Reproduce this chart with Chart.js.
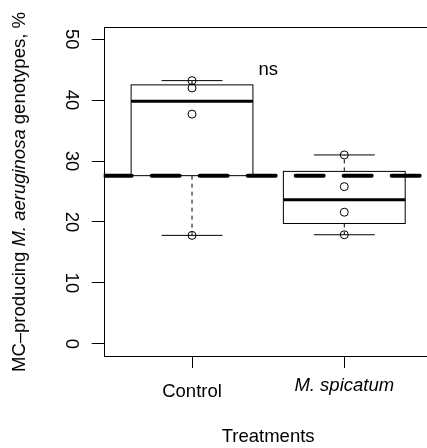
<!DOCTYPE html>
<html lang="en">
  <head>
    <meta charset="UTF-8" />
    <title>MC-producing genotypes boxplot</title>
    <script src="https://cdn.jsdelivr.net/npm/chart.js"></script>
    <style>
      body { margin: 0; overflow: hidden; background: #fff; }
      #wrap { position: relative; width: 427px; height: 448px; overflow: hidden; }
      #boxChart { position: absolute; left: 0; top: 0; }
      #yTitle {
        position: absolute;
        left: 18.5px;
        top: 191.5px;
        transform: translate(-50%, -50%) rotate(-90deg);
        white-space: nowrap;
        font: 18.5px "Liberation Sans", Arial, sans-serif;
        color: #000;
      }
    </style>
  </head>
  <body>
    <div id="wrap">
      <!-- canvas is a bit wider than the picture: the plot frame runs past the right edge -->
      <canvas id="boxChart" width="440" height="448"></canvas>
      <div id="yTitle">MC&ndash;producing <i>M. aeruginosa</i> genotypes, %</div>
    </div>

    <script>
      // data
      const categories = ["Control", "M. spicatum"];
      const yTicks = [0, 10, 20, 30, 40, 50];
      const controlPoints = [43.2, 42.0, 37.7, 17.8];
      const spicatumPoints = [31.0, 25.8, 21.6, 17.9];
      const whiskerLow = [17.8, 17.9];
      const boxLow = [27.6, 19.75];
      const medians = [39.8, 23.65];
      const boxHigh = [42.5, 28.3];
      const whiskerHigh = [43.2, 31.0];
      const refLine = 27.6;
      const noteText = "ns";
      const noteX = 1.5;
      const noteY = 45;

      const xMin = 0.42, xMax = 2.58;
      const yMin = -2, yMax = 52;
      const boxWidth = 0.8;
      const fontFamily = "'Liberation Sans', Arial, sans-serif";
      const fontSize = 18.5;

      function line(ctx, x1, y1, x2, y2) {
        ctx.beginPath();
        ctx.moveTo(x1, y1);
        ctx.lineTo(x2, y2);
        ctx.stroke();
      }

      const boxPlugin = {
        id: "boxes",
        beforeDatasetsDraw(chart) {
          const { ctx, scales: { x, y } } = chart;
          ctx.save();
          ctx.strokeStyle = "#000";
          categories.forEach((cat, i) => {
            const pos = i + 1;
            const xc = x.getPixelForValue(pos);
            const xl = x.getPixelForValue(pos - boxWidth / 2);
            const xr = x.getPixelForValue(pos + boxWidth / 2);
            const sl = x.getPixelForValue(pos - boxWidth / 4);
            const sr = x.getPixelForValue(pos + boxWidth / 4);

            // whiskers (dashed)
            ctx.lineWidth = 1;
            ctx.setLineDash([4, 4]);
            line(ctx, xc, y.getPixelForValue(boxLow[i]), xc, y.getPixelForValue(whiskerLow[i]));
            line(ctx, xc, y.getPixelForValue(boxHigh[i]), xc, y.getPixelForValue(whiskerHigh[i]));
            ctx.setLineDash([]);

            // staples
            line(ctx, sl, y.getPixelForValue(whiskerLow[i]), sr, y.getPixelForValue(whiskerLow[i]));
            line(ctx, sl, y.getPixelForValue(whiskerHigh[i]), sr, y.getPixelForValue(whiskerHigh[i]));

            // box
            const yt = y.getPixelForValue(boxHigh[i]);
            const yb = y.getPixelForValue(boxLow[i]);
            ctx.strokeRect(xl, yt, xr - xl, yb - yt);

            // median
            ctx.lineWidth = 3;
            ctx.lineCap = "butt";
            const ym = y.getPixelForValue(medians[i]);
            line(ctx, xl, ym, xr, ym);
          });
          ctx.restore();
        },
        afterDatasetsDraw(chart) {
          const { ctx, chartArea, scales: { x, y } } = chart;
          ctx.save();
          // plot frame
          ctx.strokeStyle = "#000";
          ctx.lineWidth = 1;
          ctx.strokeRect(
            Math.round(chartArea.left) + 0.5,
            Math.round(chartArea.top) + 0.5,
            chartArea.right - chartArea.left,
            Math.round(chartArea.bottom) - Math.round(chartArea.top)
          );
          // "ns" note
          ctx.fillStyle = "#000";
          ctx.font = `${fontSize}px ${fontFamily}`;
          ctx.textAlign = "center";
          ctx.textBaseline = "middle";
          ctx.fillText(noteText, x.getPixelForValue(noteX), y.getPixelForValue(noteY));
          ctx.restore();
        },
      };

      const pointData = [
        ...controlPoints.map((v) => ({ x: 1, y: v })),
        ...spicatumPoints.map((v) => ({ x: 2, y: v })),
      ];

      new Chart(document.getElementById("boxChart"), {
        type: "scatter",
        data: {
          datasets: [
            {
              type: "line",
              data: [
                { x: xMin, y: refLine },
                { x: xMax, y: refLine },
              ],
              borderColor: "#000",
              borderWidth: 4,
              borderDash: [28, 20],
              borderCapStyle: "round",
              pointRadius: 0,
              clip: 0,
            },
            {
              data: pointData,
              pointStyle: "circle",
              pointRadius: 4,
              pointBorderWidth: 1,
              borderColor: "#000",
              backgroundColor: "rgba(0,0,0,0)",
            },
          ],
        },
        options: {
          responsive: false,
          animation: false,
          events: [],
          layout: {
            autoPadding: false,
            padding: { top: 27, right: 7.4, left: 0, bottom: 0 },
          },
          plugins: { legend: { display: false }, tooltip: { enabled: false } },
          scales: {
            x: {
              type: "linear",
              bounds: "data",
              min: xMin,
              max: xMax,
              afterBuildTicks: (s) => {
                s.ticks = categories.map((c, i) => ({ value: i + 1 }));
              },
              afterFit: (s) => {
                s.height = 92;
                s.paddingLeft = 0;
                s.paddingRight = 0;
              },
              ticks: {
                callback: (v, i) => categories[i],
                padding: 12.4,
                color: "#000",
                font: (ctx) => ({
                  family: fontFamily,
                  size: fontSize,
                  style: ctx.index === 1 ? "italic" : "normal",
                  lineHeight: ctx.index === 1 ? 0.6 : 1.2,
                }),
              },
              grid: { drawOnChartArea: false, tickLength: 12, color: "#000" },
              border: { display: false },
              title: {
                display: true,
                text: "Treatments",
                color: "#000",
                font: { family: fontFamily, size: fontSize },
                padding: { top: 0, bottom: 0 },
              },
            },
            y: {
              type: "linear",
              bounds: "data",
              min: yMin,
              max: yMax,
              afterBuildTicks: (s) => {
                s.ticks = yTicks.map((v) => ({ value: v }));
              },
              afterFit: (s) => {
                s.width = 103.7;
                s.paddingTop = 0;
                s.paddingBottom = 0;
              },
              ticks: {
                minRotation: -90,
                crossAlign: "center",
                padding: 10.4,
                color: "#000",
                font: { family: fontFamily, size: fontSize },
              },
              grid: { drawOnChartArea: false, tickLength: 12, color: "#000" },
              border: { display: false },
            },
          },
        },
        plugins: [boxPlugin],
      });
    </script>
  </body>
</html>
